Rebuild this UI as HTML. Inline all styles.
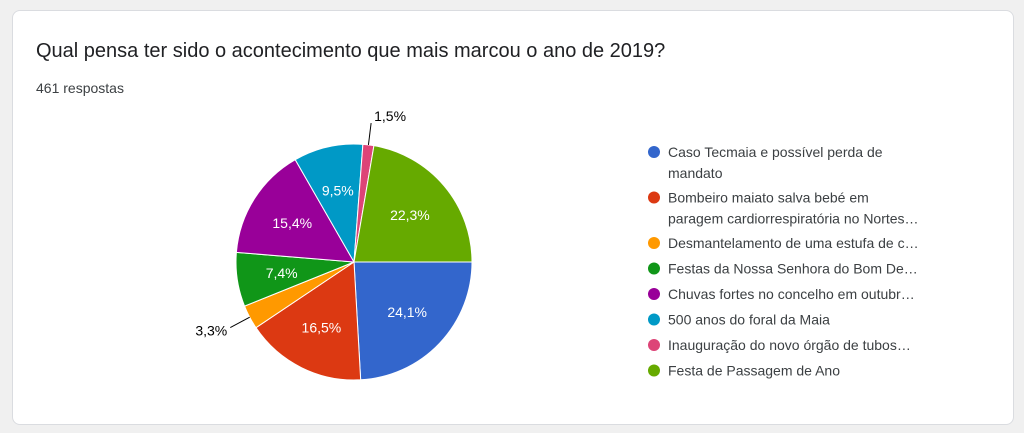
<!DOCTYPE html>
<html><head><meta charset="utf-8"><style>
body{margin:0;width:1024px;height:433px;background:#f0f0f0;font-family:"Liberation Sans",Arial,sans-serif;overflow:hidden}
.card{position:absolute;left:12px;top:10px;width:1000px;height:413px;background:#fff;border:1px solid #dadce0;border-radius:8px}
.title{position:absolute;left:36px;top:40px;font-size:20px;color:#202124}
.resp{position:absolute;left:36px;top:80px;font-size:14px;color:#3c4043}
svg{position:absolute;left:0;top:0}
</style></head><body>
<div class="card"></div>
<div class="title">Qual pensa ter sido o acontecimento que mais marcou o ano de 2019?</div>
<div class="resp">461 respostas</div>
<svg id="chart" width="1024" height="433"></svg>
<script>
const categories=["Caso Tecmaia e possível perda de|mandato","Bombeiro maiato salva bebé em|paragem cardiorrespiratória no Nortes…","Desmantelamento de uma estufa de c…","Festas da Nossa Senhora do Bom De…","Chuvas fortes no concelho em outubr…","500 anos do foral da Maia","Inauguração do novo órgão de tubos…","Festa de Passagem de Ano"];
const values=[24.1,16.5,3.3,7.4,15.4,9.5,1.5,22.3];
const labels=["24,1%","16,5%","3,3%","7,4%","15,4%","9,5%","1,5%","22,3%"];
const colors=["#3366cc","#dc3912","#ff9900","#109618","#990099","#0099c6","#dd4477","#66aa00"];
const svg=document.getElementById('chart');const NS="http://www.w3.org/2000/svg";
const cx=354,cy=262,r=118;
const total=values.reduce((a,b)=>a+b,0);
function pt(a,rr){return [cx+rr*Math.cos(a),cy+rr*Math.sin(a)];}
let acc=0;
values.forEach((v,i)=>{
 const a0=acc/total*2*Math.PI,a1=(acc+v)/total*2*Math.PI;acc+=v;
 const p0=pt(a0,r),p1=pt(a1,r);
 const p=document.createElementNS(NS,'path');
 p.setAttribute('d',`M${cx},${cy}L${p0[0]},${p0[1]}A${r},${r} 0 ${a1-a0>Math.PI?1:0} 1 ${p1[0]},${p1[1]}Z`);
 p.setAttribute('fill',colors[i]);p.setAttribute('stroke','#fff');p.setAttribute('stroke-width','1');
 
 
 svg.appendChild(p);
 const am=(a0+a1)/2;
 const t=document.createElementNS(NS,'text');
 if(v>=5){const q=pt(am,r*0.62);t.setAttribute('x',q[0]);t.setAttribute('y',q[1]+5);t.setAttribute('fill','#fff');t.setAttribute('text-anchor','middle');}
 else{const e=pt(am,r),o=pt(am,r+22);const l=document.createElementNS(NS,'line');
  l.setAttribute('x1',e[0]);l.setAttribute('y1',e[1]);l.setAttribute('x2',o[0]);l.setAttribute('y2',o[1]);l.setAttribute('stroke','#000');
  
  
  svg.appendChild(l);
  const right=Math.cos(am)>=0;t.setAttribute('x',o[0]+(right?3:-3));t.setAttribute('y',o[1]+(Math.sin(am)<0?-2:8));t.setAttribute('text-anchor',right?'start':'end');t.setAttribute('fill','#000');}
 t.setAttribute('font-size','14');t.textContent=labels[i];
 
 
 svg.appendChild(t);
});
let y=152;
categories.forEach((c,i)=>{
 const c0=document.createElementNS(NS,'circle');c0.setAttribute('cx',654);c0.setAttribute('cy',y);c0.setAttribute('r',6);c0.setAttribute('fill',colors[i]);
 
 
 svg.appendChild(c0);
 c.split('|').forEach((line,k)=>{
  const t=document.createElementNS(NS,'text');t.setAttribute('x',668);t.setAttribute('y',y+5+k*21);t.setAttribute('font-size','14');t.setAttribute('fill','#3c4043');t.textContent=line;
  
  
  svg.appendChild(t);
 });
 y+=c.split('|').length>1?45.5:25.5;
});
</script>
</body></html>
